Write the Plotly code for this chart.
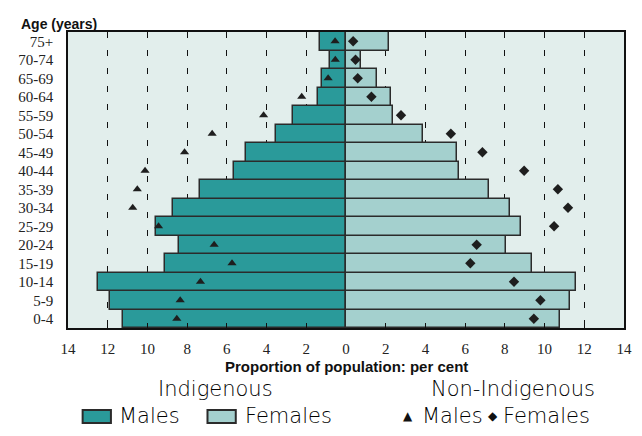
import plotly.graph_objects as go

ages = ["0-4", "5-9", "10-14", "15-19", "20-24", "25-29", "30-34", "35-39",
        "40-44", "45-49", "50-54", "55-59", "60-64", "65-69", "70-74", "75+"]

# Indigenous (bars), per cent of population
ind_males = [11.21, 11.90, 12.49, 9.10, 8.41, 9.59, 8.71, 7.33,
             5.66, 5.02, 3.54, 2.66, 1.43, 1.23, 0.79, 1.33]
ind_females = [10.79, 11.28, 11.57, 9.38, 8.07, 8.79, 8.28, 7.18,
               5.67, 5.57, 3.89, 2.38, 2.26, 1.57, 0.77, 2.16]

# Non-Indigenous (markers), per cent of population
non_males = [8.52, 8.35, 7.33, 5.74, 6.64, 9.44, 10.74, 10.51,
             10.12, 8.13, 6.74, 4.15, 2.23, 0.90, 0.54, 0.55]
non_females = [9.46, 9.79, 8.46, 6.26, 6.58, 10.48, 11.18, 10.67,
               8.97, 6.87, 5.28, 2.77, 1.28, 0.59, 0.48, 0.36]

tick_vals = [-14, -12, -10, -8, -6, -4, -2, 0, 2, 4, 6, 8, 10, 12, 14]
tick_text = ["14", "12", "10", "8", "6", "4", "2", "0", "2", "4", "6", "8", "10", "12", "14"]
grid_vals = [-12, -10, -8, -6, -4, -2, 2, 4, 6, 8, 10, 12]

MALE_C = "#2a9a9a"
FEMALE_C = "#a4d0ce"
EDGE = "#2b2b2b"
BG = "#e2eeec"

fig = go.Figure()
fig.add_trace(go.Bar(y=ages, x=[-v for v in ind_males], orientation="h",
                     marker=dict(color=MALE_C, line=dict(color=EDGE, width=1.5)),
                     showlegend=False, hoverinfo="skip"))
fig.add_trace(go.Bar(y=ages, x=ind_females, orientation="h",
                     marker=dict(color=FEMALE_C, line=dict(color=EDGE, width=1.5)),
                     showlegend=False, hoverinfo="skip"))
fig.add_trace(go.Scatter(y=ages, x=[-v for v in non_males], mode="markers",
                         marker=dict(symbol="triangle-up", size=8, color="#1e1e1e"),
                         showlegend=False, hoverinfo="skip"))
fig.add_trace(go.Scatter(y=ages, x=non_females, mode="markers",
                         marker=dict(symbol="diamond", size=8, color="#1e1e1e"),
                         showlegend=False, hoverinfo="skip"))

# the page body adds an 8px offset; layout is expressed in window pixels
OFF = 8
W, H = 642 - OFF, 436 - OFF
L, R, T, B = 62 - OFF, 10, 32 - OFF, 108
PW = W - L - R
PH = H - T - B


def px(x):
    return (x - OFF - L) / PW


def py(y):
    return (H - B - (y - OFF)) / PH


serif = "Liberation Serif, serif"
narrow = "Liberation Sans Narrow, Liberation Sans, Arial, sans-serif"
leg = "DejaVu Sans, sans-serif"
LEG_SIZE = 21

fig.update_layout(
    width=W, height=H,
    margin=dict(l=L, r=R, t=T, b=B, pad=0),
    paper_bgcolor="white", plot_bgcolor=BG,
    barmode="overlay", bargap=0,
    showlegend=False,
    xaxis=dict(range=[-14, 14], tickvals=tick_vals, ticktext=tick_text,
               showgrid=False, zeroline=False, ticks="",
               showline=True, linecolor="#111", linewidth=1.5, mirror=True,
               tickfont=dict(family=serif, size=15, color="#222"),
               ticklabelstandoff=6,
               minor=dict(tickvals=grid_vals, showgrid=True, gridcolor="#111",
                          gridwidth=1.3, griddash="6px,12px",
                          ticks="inside", ticklen=5, tickcolor="#111")),
    yaxis=dict(type="category", categoryorder="array", categoryarray=ages,
               range=[-0.5, len(ages) - 0.5],
               showgrid=False, zeroline=False, ticks="",
               showline=True, linecolor="#111", linewidth=1.5, mirror=True,
               tickfont=dict(family=serif, size=15, color="#222"),
               ticklabelstandoff=10),
)

ann = []
ann.append(dict(text="<b>Age (years)</b>", x=px(12), y=py(24), xref="paper", yref="paper",
                xanchor="left", yanchor="middle", showarrow=False,
                font=dict(family=narrow, size=14, color="#111")))
ann.append(dict(text="<b>Proportion of population: per cent</b>", x=px(347), y=py(366),
                xref="paper", yref="paper", xanchor="center", yanchor="middle",
                showarrow=False, font=dict(family=narrow, size=15, color="#111")))
ann.append(dict(text="Indigenous", x=px(213), y=py(389), xref="paper", yref="paper",
                xanchor="center", yanchor="middle", showarrow=False, borderpad=0,
                font=dict(family=leg, size=LEG_SIZE, color="#000", weight=200)))
ann.append(dict(text="Non-Indigenous", x=px(518), y=py(389), xref="paper", yref="paper",
                xanchor="center", yanchor="middle", showarrow=False, borderpad=0,
                font=dict(family=leg, size=LEG_SIZE, color="#000", weight=200)))
row_y = py(416)
for label, xpos in [("Males", 113), ("Females", 242), ("Males", 424), ("Females", 507)]:
    ann.append(dict(text=label, x=px(xpos), y=row_y, xref="paper", yref="paper",
                    xanchor="left", yanchor="middle", showarrow=False, borderpad=0,
                    font=dict(family=leg, size=LEG_SIZE, color="#000", weight=200)))
for sym, xpos in [("▲", 404), ("◆", 492)]:
    ann.append(dict(text=sym, x=px(xpos), y=py(416), xref="paper", yref="paper",
                    xanchor="left", yanchor="middle", showarrow=False, borderpad=0,
                    font=dict(family="DejaVu Sans, sans-serif", size=12, color="#111")))
fig.update_layout(annotations=ann)

shapes = []
for (x0, x1), col in [((77, 106), MALE_C), ((205, 234), FEMALE_C)]:
    shapes.append(dict(type="rect", xref="paper", yref="paper",
                       x0=px(x0), x1=px(x1), y0=py(423), y1=py(410),
                       fillcolor=col, line=dict(color=EDGE, width=2)))
fig.update_layout(shapes=shapes)

fig.write_html("out.html")
